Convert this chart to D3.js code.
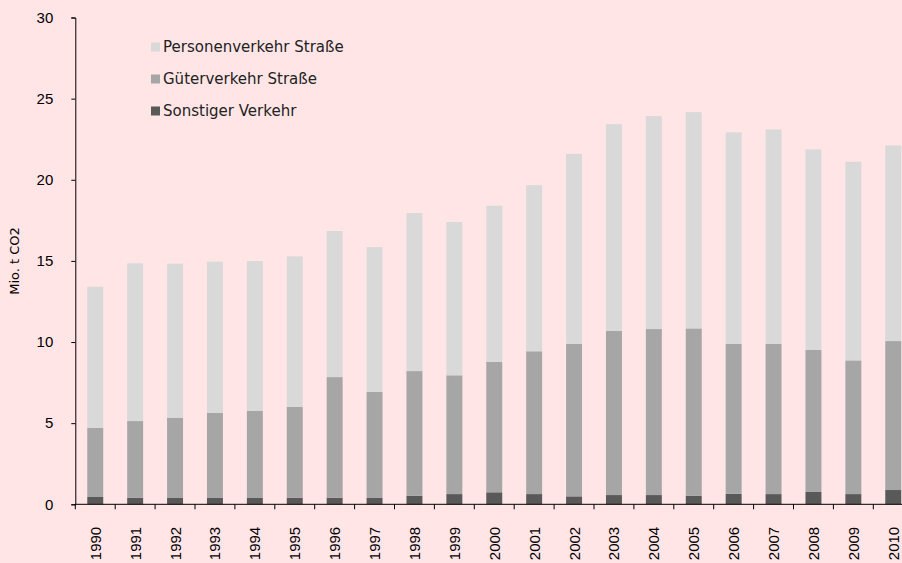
<!DOCTYPE html>
<html>
<head>
<meta charset="utf-8">
<script src="https://cdn.jsdelivr.net/npm/d3@7"></script>
<style>
  body { margin: 0; background: #ffe5e6; }
  svg { display: block; font-family: "DejaVu Sans", sans-serif; }
  .tick text { font-size: 15px; fill: #000; font-family: "Liberation Sans", sans-serif; }
</style>
</head>
<body>
<div id="chart"></div>
<script>
// Jahre und Segmentwerte (Mio. t CO2)
const years = ["1990","1991","1992","1993","1994","1995","1996","1997","1998","1999","2000",
               "2001","2002","2003","2004","2005","2006","2007","2008","2009","2010"]
const sonstiger = [0.45,0.41,0.39,0.39,0.39,0.41,0.41,0.39,0.53,0.63,0.74,0.63,0.49,0.57,0.57,0.53,0.65,0.63,0.76,0.63,0.88]
const gueter    = [4.27,4.72,4.95,5.24,5.36,5.59,7.43,6.53,7.68,7.32,8.03,8.80,9.39,10.11,10.23,10.31,9.23,9.25,8.75,8.24,9.18]
const personen  = [8.69,9.72,9.49,9.32,9.24,9.28,9.00,8.93,9.74,9.45,9.63,10.24,11.72,12.75,13.12,13.33,13.04,13.22,12.36,12.24,12.06]
const yTicks = [0,5,10,15,20,25,30]

const seriesNames = ["Sonstiger Verkehr","Güterverkehr Straße","Personenverkehr Straße"]
const colors = ["#595959","#a6a6a6","#d9d9d9"]

const W = 902, H = 563
const margin = { top: 17.5, right: 0, bottom: 58.7, left: 75.3 }
const height = H - margin.top - margin.bottom

const table = years.map((y, i) => ({
    year: y,
    "Sonstiger Verkehr": sonstiger[i],
    "Güterverkehr Straße": gueter[i],
    "Personenverkehr Straße": personen[i]
}))

const stack = d3.stack().keys(seriesNames)(table)

const svg = d3.select("#chart").append("svg")
    .attr("width", W)
    .attr("height", H)

const g = svg.append("g")
    .attr("transform", "translate(" + margin.left + "," + margin.top + ")")

// plot runs a little past the right edge (21 bands of ~39.9px)
const x = d3.scaleBand()
    .domain(years)
    .range([0, 21 * 39.9])
    .paddingInner(0.6)
    .paddingOuter(0.3)

const y = d3.scaleLinear()
    .domain([0, 30])
    .range([height, 0])

g.selectAll(".layer")
    .data(stack)
    .enter().append("g")
    .attr("class", "layer")
    .attr("fill", (d, i) => colors[i])
    .selectAll("rect")
    .data(d => d)
    .enter().append("rect")
    .attr("x", d => x(d.data.year))
    .attr("y", d => y(d[1]))
    .attr("width", x.bandwidth())
    .attr("height", d => y(d[0]) - y(d[1]))

// y axis
const yAxis = g.append("g")
    .call(d3.axisLeft(y).tickValues(yTicks).tickSize(4).tickPadding(18))
yAxis.select(".domain").attr("stroke", "#000")
yAxis.selectAll(".tick line").attr("stroke", "#000")

// x axis with band-edge ticks
const xAxis = g.append("g")
    .attr("transform", "translate(0," + height + ")")
xAxis.append("line")
    .attr("x1", 0).attr("x2", W)
    .attr("stroke", "#000")
xAxis.selectAll(".xtick")
    .data(years)
    .enter().append("line")
    .attr("class", "xtick")
    .attr("x1", d => x(d) - x.step() * 0.3)
    .attr("x2", d => x(d) - x.step() * 0.3)
    .attr("y1", 0).attr("y2", 5)
    .attr("stroke", "#000")
xAxis.selectAll(".xlabel")
    .data(years)
    .enter().append("text")
    .attr("class", "xlabel")
    .attr("transform", d => "translate(" + (x(d) + x.bandwidth() / 2 + 5.5) + ",22.5) rotate(-90)")
    .attr("text-anchor", "end")
    .style("font-size", "15px")
    .style("font-family", "'Liberation Sans', sans-serif")
    .text(d => d)

// y axis title
svg.append("text")
    .attr("transform", "translate(19,261) rotate(-90)")
    .attr("text-anchor", "middle")
    .style("font-size", "13px")
    .text("Mio. t CO2")

// legend
const legendOrder = [2, 1, 0]
const legend = svg.selectAll(".legend")
    .data(legendOrder)
    .enter().append("g")
    .attr("class", "legend")
    .attr("transform", (d, i) => "translate(151," + (47 + i * 32) + ")")
legend.append("rect")
    .attr("x", 0).attr("y", -4.5)
    .attr("width", 9).attr("height", 9)
    .attr("fill", d => colors[d])
legend.append("text")
    .attr("x", 12)
    .attr("dy", "0.35em")
    .style("font-size", "15px")
    .attr("fill", "#222")
    .text(d => seriesNames[d])
</script>
</body>
</html>
